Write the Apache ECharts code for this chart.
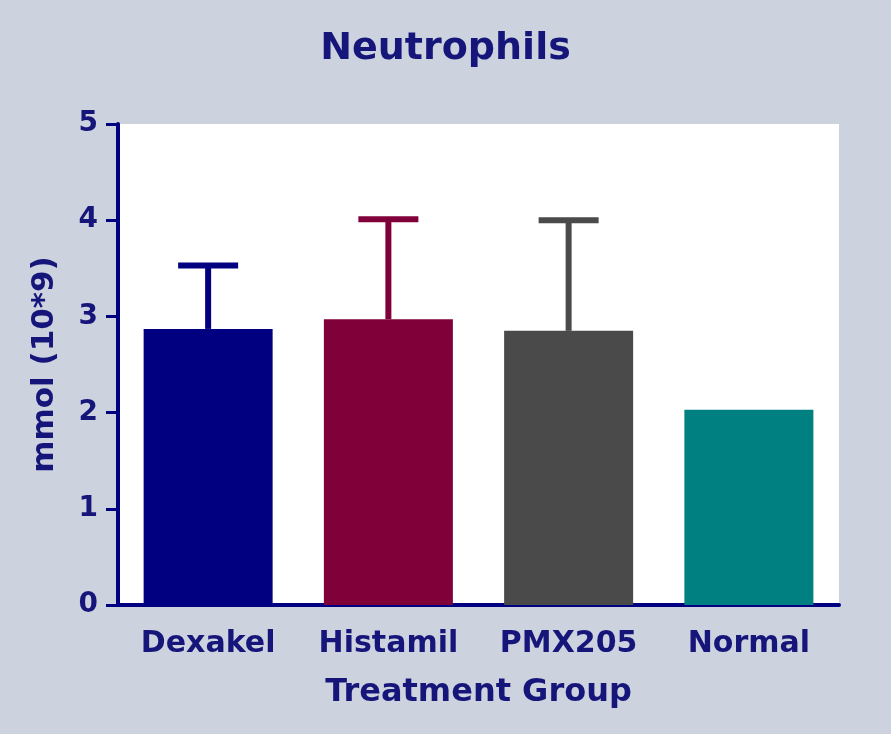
<!DOCTYPE html>
<html>
<head>
<meta charset="utf-8">
<script src="https://cdn.jsdelivr.net/npm/echarts@6/dist/echarts.min.js"></script>
<style>
html,body{margin:0;padding:0;background:#cdd2df;}
#chart{width:891px;height:734px;}
</style>
</head>
<body>
<div id="chart"></div>
<script>
const categories = ['Dexakel', 'Histamil', 'PMX205', 'Normal'];
const meanValues = [2.87, 2.97, 2.85, 2.03];
const errorValues = [0.66, 1.04, 1.15, 0];
const yTicks = [0, 1, 2, 3, 4, 5];

const barColors = ['#000080', '#80003a', '#4a4a4a', '#008080'];
const navy = '#000080';
const textColor = '#16167a';
const fontFamily = '"DejaVu Sans", sans-serif';

const chart = echarts.init(document.getElementById('chart'));
chart.setOption({
  backgroundColor: '#cdd2df',
  animation: false,
  title: {
    text: 'Neutrophils',
    left: 'center',
    top: 25,
    textStyle: { color: textColor, fontSize: 38, fontWeight: 'bold', fontFamily: fontFamily }
  },
  grid: {
    left: 118, right: 52, top: 124, bottom: 129,
    show: true, backgroundColor: '#ffffff', borderWidth: 0
  },
  xAxis: {
    type: 'category',
    data: categories,
    name: 'Treatment Group',
    nameLocation: 'middle',
    nameGap: 72,
    nameTextStyle: { color: textColor, fontSize: 32, fontWeight: 'bold', fontFamily: fontFamily },
    axisLine: { lineStyle: { color: navy, width: 4 } },
    axisTick: { alignWithLabel: true, length: 13, lineStyle: { color: navy, width: 3 } },
    axisLabel: { interval: 0, color: textColor, fontSize: 30, fontWeight: 'bold', fontFamily: fontFamily, margin: 24 }
  },
  yAxis: {
    type: 'value',
    min: yTicks[0],
    max: yTicks[yTicks.length - 1],
    interval: 1,
    name: 'mmol (10*9)',
    nameLocation: 'middle',
    nameGap: 58,
    nameTextStyle: { color: textColor, fontSize: 31, fontWeight: 'bold', fontFamily: fontFamily },
    splitLine: { show: false },
    axisLine: { show: true, lineStyle: { color: navy, width: 4 } },
    axisTick: { show: true, length: 12, lineStyle: { color: navy, width: 3 } },
    axisLabel: { color: textColor, fontSize: 28, fontWeight: 'bold', fontFamily: fontFamily, margin: 20 }
  },
  series: [
    {
      type: 'bar',
      barWidth: 129,
      data: meanValues.map((v, i) => ({ value: v, itemStyle: { color: barColors[i] } })),
      z: 3
    },
    {
      type: 'custom',
      z: 2,
      data: meanValues.map((v, i) => [i, v, errorValues[i]]),
      renderItem: function (params, api) {
        const idx = api.value(0), m = api.value(1), e = api.value(2);
        if (!e) return null;
        const base = api.coord([idx, m]);
        const top = api.coord([idx, m + e]);
        const color = barColors[idx];
        const half = 30;
        return {
          type: 'group',
          children: [
            { type: 'line', shape: { x1: base[0], y1: base[1], x2: top[0], y2: top[1] },
              style: { stroke: color, lineWidth: 6 } },
            { type: 'line', shape: { x1: top[0] - half, y1: top[1], x2: top[0] + half, y2: top[1] },
              style: { stroke: color, lineWidth: 6 } }
          ]
        };
      }
    }
  ]
});
</script>
</body>
</html>
